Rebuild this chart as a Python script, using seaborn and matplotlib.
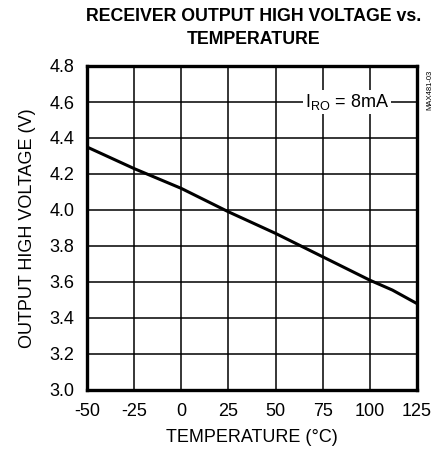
import numpy as np
import pandas as pd
import matplotlib
matplotlib.use('Agg')
import matplotlib.pyplot as plt
import seaborn as sns

# values
temperature = [-50, -25, 0, 25, 50, 75, 100, 112, 125]
voltage = [4.35, 4.23, 4.12, 3.99, 3.87, 3.74, 3.61, 3.555, 3.48]
x_ticks = [-50, -25, 0, 25, 50, 75, 100, 125]
y_ticks = [3.0, 3.2, 3.4, 3.6, 3.8, 4.0, 4.2, 4.4, 4.6, 4.8]

df = pd.DataFrame({'TEMP': temperature, 'VOH': voltage})

sns.set_style('white')
plt.rcParams['font.family'] = ['Liberation Sans', 'DejaVu Sans']
plt.rcParams['text.color'] = 'black'
plt.rcParams['axes.labelcolor'] = 'black'
plt.rcParams['xtick.color'] = 'black'
plt.rcParams['ytick.color'] = 'black'

fig = plt.figure(figsize=(4.39, 4.51), dpi=100)
ax = fig.add_axes([87 / 439, 61 / 451, 330 / 439, 324 / 451])

sns.lineplot(data=df, x='TEMP', y='VOH', color='black', linewidth=2.2, ax=ax)

ax.set_xlim(-50, 125)
ax.set_ylim(3.0, 4.8)
ax.set_xticks(x_ticks)
ax.set_yticks(y_ticks)
ax.set_xticklabels([str(t) for t in x_ticks], fontsize=13)
ax.set_yticklabels(['%.1f' % v for v in y_ticks], fontsize=13)
ax.tick_params(length=0, pad=9)
ax.grid(True, color='black', linewidth=1.1)
for s in ax.spines.values():
    s.set_linewidth(2.4)
    s.set_color('black')

ax.set_xlabel('TEMPERATURE (°C)', fontsize=13, labelpad=7)
ax.set_ylabel('OUTPUT HIGH VOLTAGE (V)', fontsize=13, labelpad=10)

fig.suptitle('RECEIVER OUTPUT HIGH VOLTAGE vs.\nTEMPERATURE', fontsize=12.8,
             fontweight='bold', x=0.578, y=0.983, linespacing=1.5)

ax.text(88, 4.6, '$\\mathregular{I_{RO}}$ = 8mA', fontsize=13, ha='center', va='center',
        bbox=dict(facecolor='white', edgecolor='none', pad=1.5))

fig.text(0.979, 0.80, 'MAX481-03', rotation=90, fontsize=5.5, ha='center', va='center')

fig.savefig('out.png', dpi=100)
